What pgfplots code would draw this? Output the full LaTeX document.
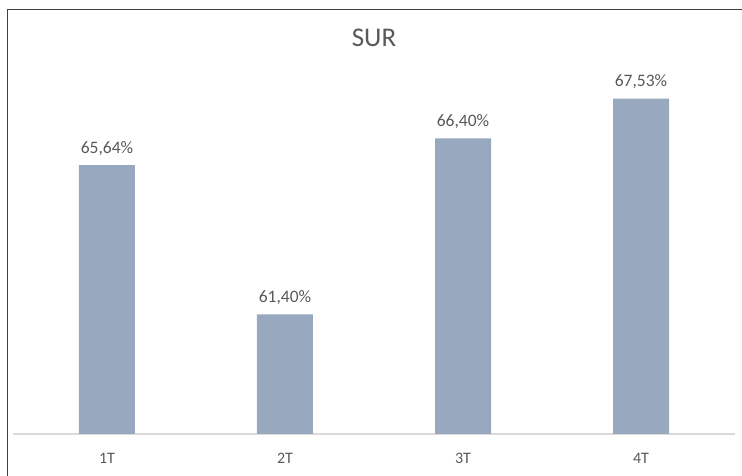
\documentclass[border=0pt]{standalone}
\usepackage{pgfplots}
\pgfplotsset{compat=1.18}
\usepackage{fontspec}
\setmainfont{Carlito}
\definecolor{barc}{HTML}{98A8BF}
\definecolor{txt}{HTML}{595959}
\definecolor{axl}{HTML}{D9D9D9}
\newcommand{\tl}[1]{\fontsize{16}{18}\selectfont #1}
\begin{document}
\begin{tikzpicture}[x=1pt,y=1pt]
\begin{axis}[
  at={(13pt,42pt)}, anchor=south west,
  scale only axis, width=722pt, height=387pt,
  xmin=-0.528, xmax=3.528, ymin=58, ymax=69,
  axis x line*=bottom, axis y line=none,
  x axis line style={axl, line width=1.2pt, -},
  xtick=data, xticklabels={\tl{1T},\tl{2T},\tl{3T},\tl{4T}},
  xtick style={draw=none},
  ytick=\empty,
  xticklabel style={text=txt, yshift=-11pt},
  /pgf/number format/assume math mode=true,
  ybar, bar width=56pt,
  nodes near coords={\pgfmathprintnumber[fixed,fixed zerofill,precision=2,use comma]{\pgfplotspointmeta}\%},
  every node near coord/.append style={font=\fontsize{17.5}{20}\selectfont, text=txt, yshift=6pt},
  clip=false,
]
\addplot[fill=barc, draw=none] coordinates {(0,65.64) (1,61.40) (2,66.40) (3,67.53)};
\end{axis}
\node[text=txt, font=\fontsize{27}{30}\selectfont] at (374,438) {SUR};
\draw[black!75, line width=1pt] (7,-20) rectangle (780,466);
\pgfresetboundingbox
\useasboundingbox (0,0) rectangle (742,476);
\end{tikzpicture}
\end{document}
